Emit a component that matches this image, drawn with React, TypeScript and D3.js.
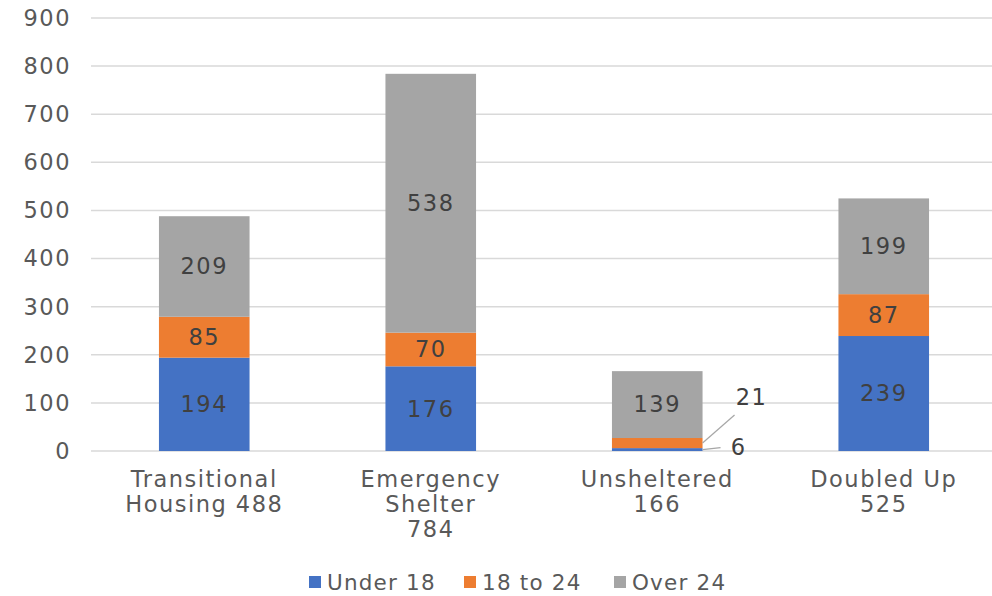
import React, { useEffect, useRef } from "react";
import * as d3 from "d3";

const categories = ["Transitional Housing 488", "Emergency Shelter 784", "Unsheltered 166", "Doubled Up 525"];
const categoryLines = [["Transitional", "Housing 488"], ["Emergency", "Shelter", "784"], ["Unsheltered", "166"], ["Doubled Up", "525"]];
const seriesNames = ["Under 18", "18 to 24", "Over 24"];
const under18 = [194, 176, 6, 239];
const age18to24 = [85, 70, 21, 87];
const over24 = [209, 538, 139, 199];
const yTicks = [0, 100, 200, 300, 400, 500, 600, 700, 800, 900];

const colors = ["#4472C4", "#ED7D31", "#A5A5A5"];
const FONT = "'DejaVu Sans', sans-serif";
const FS = 22.5;
const LS = 1.5;

export default function App() {
  const ref = useRef<SVGSVGElement | null>(null);
  const width = 992;
  const height = 596;

  useEffect(() => {
    const svg = d3.select(ref.current);
    svg.selectAll("*").remove();

    const margin = { top: 18, right: 0, bottom: 145, left: 91 };
    const x = d3
      .scaleBand<string>()
      .domain(categories)
      .range([margin.left, 997])
      .padding(0);
    const y = d3.scaleLinear().domain([0, 900]).range([height - margin.bottom, margin.top]);
    const barW = x.bandwidth() * 0.4;

    const txt = (sel: d3.Selection<any, any, any, any>, size = FS, ls = LS) =>
      sel.attr("font-family", FONT).attr("font-size", size).attr("letter-spacing", ls);

    // gridlines
    svg
      .append("g")
      .selectAll("line")
      .data(yTicks)
      .join("line")
      .attr("x1", margin.left)
      .attr("x2", width)
      .attr("y1", (d) => y(d))
      .attr("y2", (d) => y(d))
      .attr("stroke", "#D9D9D9")
      .attr("stroke-width", 1.5);

    // y tick labels
    svg
      .append("g")
      .selectAll("text")
      .data(yTicks)
      .join("text")
      .attr("x", 71)
      .attr("y", (d) => y(d))
      .attr("dy", "0.35em")
      .attr("text-anchor", "end")
      .call(txt)
      .attr("fill", "#595959")
      .text((d) => d);

    const rows = categories.map((c, i) => ({ cat: c, values: [under18[i], age18to24[i], over24[i]] }));
    const stack = d3.stack<{ cat: string; values: number[] }>().keys(["0", "1", "2"]).value((d, k) => d.values[+k]);
    const layers = stack(rows);

    layers.forEach((layer, si) => {
      svg
        .append("g")
        .selectAll("rect")
        .data(layer)
        .join("rect")
        .attr("x", (d) => x(d.data.cat)! + (x.bandwidth() - barW) / 2)
        .attr("width", barW)
        .attr("y", (d) => y(d[1]))
        .attr("height", (d) => y(d[0]) - y(d[1]))
        .attr("fill", colors[si]);
    });

    // data labels
    layers.forEach((layer, si) => {
      layer.forEach((d) => {
        const v = d[1] - d[0];
        const cx = x(d.data.cat)! + x.bandwidth() / 2;
        const small = v < 40;
        if (!small) {
          svg
            .append("text")
            .attr("x", cx)
            .attr("y", y((d[0] + d[1]) / 2))
            .attr("dy", "0.35em")
            .attr("text-anchor", "middle")
            .call(txt)
            .attr("fill", "#404040")
            .text(v);
        } else {
          const barRight = cx + barW / 2;
          const mid = y((d[0] + d[1]) / 2);
          const isTop = si === 1;
          const lx = barRight + (isTop ? 32 : 18);
          const ly = isTop ? mid - 28 : mid - 2;
          svg
            .append("line")
            .attr("x1", barRight)
            .attr("y1", mid)
            .attr("x2", lx)
            .attr("y2", ly)
            .attr("stroke", "#A6A6A6")
            .attr("stroke-width", 1.2);
          svg
            .append("text")
            .attr("x", isTop ? lx + 17 : lx + 18)
            .attr("y", isTop ? ly - 18 : ly)
            .attr("dy", "0.35em")
            .attr("text-anchor", "middle")
            .call(txt)
            .attr("fill", "#404040")
            .text(v);
        }
      });
    });

    // category labels
    categories.forEach((c, i) => {
      const cx = x(c)! + x.bandwidth() / 2;
      const t = svg.append("text").attr("text-anchor", "middle").call(txt).attr("fill", "#595959");
      categoryLines[i].forEach((ln, li) => {
        t.append("tspan")
          .attr("x", cx)
          .attr("y", 487 + li * 25)
          .text(ln);
      });
    });

    // legend
    const legendX = [309, 464, 614];
    seriesNames.forEach((s, i) => {
      const g = svg.append("g").attr("transform", `translate(${legendX[i]},582)`);
      g.append("rect").attr("x", 0).attr("y", -6).attr("width", 12).attr("height", 12).attr("fill", colors[i]);
      g.append("text")
        .attr("x", 18)
        .attr("dy", "0.35em")
        .call(txt, 21.5, 1.2)
        .attr("fill", "#595959")
        .text(s);
    });
  }, []);

  return <svg ref={ref} width={width} height={height} style={{ position: "absolute", left: 0, top: 0 }} />;
}
